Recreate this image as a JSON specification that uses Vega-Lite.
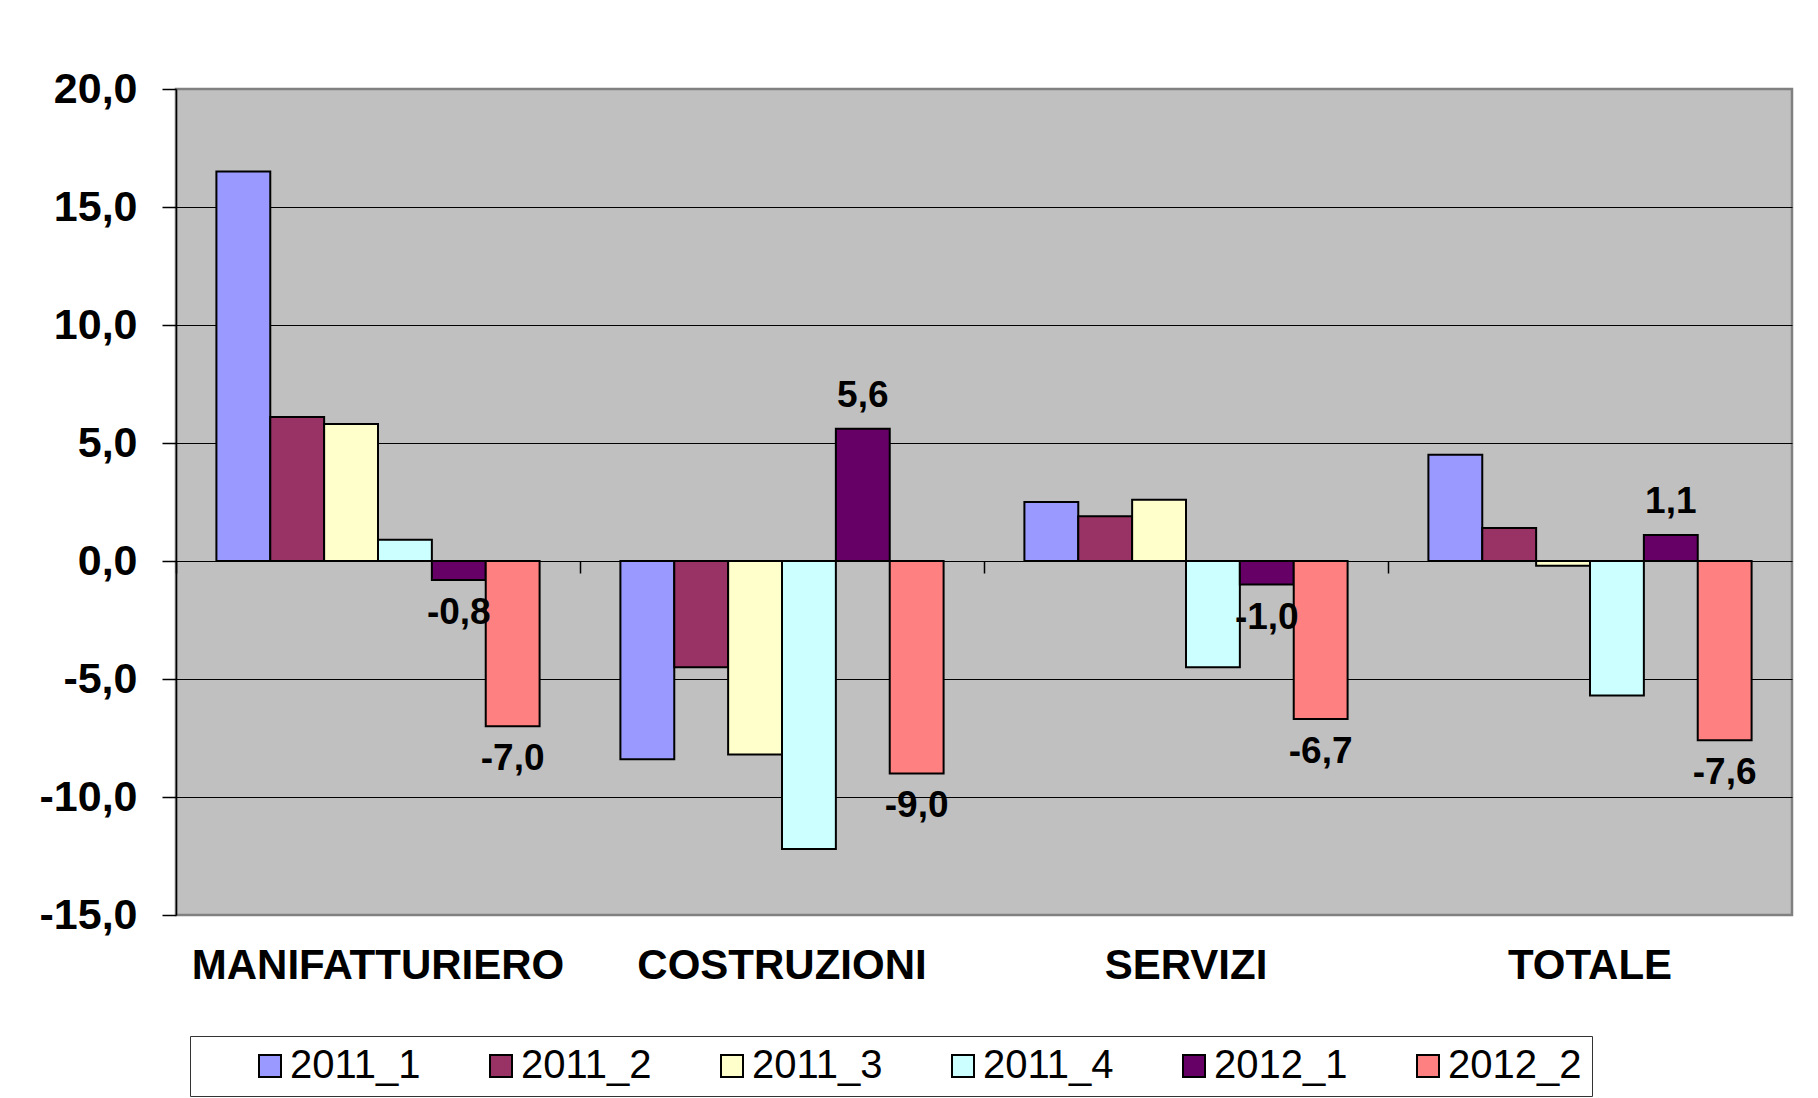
{
  "$schema": "https://vega.github.io/schema/vega-lite/v6.json",
  "width": 1616,
  "height": 826,
  "autosize": {"type": "none"},
  "padding": {"left": 176, "top": 89, "right": 26, "bottom": 183},
  "background": "white",
  "config": {
    "locale": {"number": {"decimal": ",", "thousands": ".", "grouping": [3], "currency": ["", " €"], "minus": "-"}},
    "font": "Liberation Sans",
    "view": {"fill": "#C0C0C0", "stroke": "#808080", "strokeWidth": 2.5}
  },
  "data": {
    "values": [
      {"cat": "MANIFATTURIERO", "series": "2011_1", "value": 16.5},
      {"cat": "MANIFATTURIERO", "series": "2011_2", "value": 6.1},
      {"cat": "MANIFATTURIERO", "series": "2011_3", "value": 5.8},
      {"cat": "MANIFATTURIERO", "series": "2011_4", "value": 0.9},
      {"cat": "MANIFATTURIERO", "series": "2012_1", "value": -0.8},
      {"cat": "MANIFATTURIERO", "series": "2012_2", "value": -7.0},
      {"cat": "COSTRUZIONI", "series": "2011_1", "value": -8.4},
      {"cat": "COSTRUZIONI", "series": "2011_2", "value": -4.5},
      {"cat": "COSTRUZIONI", "series": "2011_3", "value": -8.2},
      {"cat": "COSTRUZIONI", "series": "2011_4", "value": -12.2},
      {"cat": "COSTRUZIONI", "series": "2012_1", "value": 5.6},
      {"cat": "COSTRUZIONI", "series": "2012_2", "value": -9.0},
      {"cat": "SERVIZI", "series": "2011_1", "value": 2.5},
      {"cat": "SERVIZI", "series": "2011_2", "value": 1.9},
      {"cat": "SERVIZI", "series": "2011_3", "value": 2.6},
      {"cat": "SERVIZI", "series": "2011_4", "value": -4.5},
      {"cat": "SERVIZI", "series": "2012_1", "value": -1.0},
      {"cat": "SERVIZI", "series": "2012_2", "value": -6.7},
      {"cat": "TOTALE", "series": "2011_1", "value": 4.5},
      {"cat": "TOTALE", "series": "2011_2", "value": 1.4},
      {"cat": "TOTALE", "series": "2011_3", "value": -0.2},
      {"cat": "TOTALE", "series": "2011_4", "value": -5.7},
      {"cat": "TOTALE", "series": "2012_1", "value": 1.1},
      {"cat": "TOTALE", "series": "2012_2", "value": -7.6}
    ]
  },
  "encoding": {
    "y": {
      "field": "value",
      "type": "quantitative",
      "scale": {"domain": [-15, 20], "nice": false, "zero": true},
      "axis": {
        "title": null,
        "values": [-15, -10, -5, 0, 5, 10, 15, 20],
        "format": ".1f",
        "labelFontSize": 43,
        "labelFontWeight": "bold",
        "labelColor": "black",
        "labelPadding": 25,
        "tickSize": 14,
        "tickColor": "black",
        "tickWidth": 1.5,
        "domainColor": "black",
        "domainWidth": 1.5,
        "grid": true,
        "gridColor": {"condition": {"test": "datum.value == 20 || datum.value == -15", "value": "#808080"}, "value": "black"},
        "gridWidth": 1.2,
        "gridOpacity": 1
      }
    },
    "xOffset": {"field": "series", "type": "nominal", "scale": {"paddingInner": 0, "paddingOuter": 0}}
  },
  "layer": [
    {
      "mark": {"type": "bar", "stroke": "black", "strokeWidth": 2},
      "encoding": {
        "x": {
          "field": "cat",
          "type": "nominal",
          "sort": ["MANIFATTURIERO", "COSTRUZIONI", "SERVIZI", "TOTALE"],
          "scale": {"paddingInner": 0.2, "paddingOuter": 0.1},
          "axis": {
            "title": null,
            "orient": "bottom",
            "labelAngle": 0,
            "labelFontSize": 42,
            "labelFontWeight": "bold",
            "labelColor": "black",
            "labelPadding": 30,
            "labelLimit": 800,
            "ticks": false,
            "domain": false,
            "grid": false
          }
        },
        "color": {
          "field": "series",
          "type": "nominal",
          "scale": {
            "domain": ["2011_1", "2011_2", "2011_3", "2011_4", "2012_1", "2012_2"],
            "range": ["#9999FF", "#993366", "#FFFFCC", "#CCFFFF", "#660066", "#FF8080"]
          },
          "legend": {
            "orient": "none",
            "legendX": 14,
            "legendY": 947,
            "direction": "horizontal",
            "columns": 6,
            "title": " ",
            "titleOrient": "left",
            "titleFontSize": 12,
            "titlePadding": 50,
            "padding": 10,
            "strokeColor": "#333333",
            "fillColor": "white",
            "symbolType": "square",
            "symbolSize": 484,
            "symbolStrokeColor": "black",
            "symbolStrokeWidth": 2,
            "symbolOpacity": 1,
            "labelFontSize": 40,
            "labelColor": "black",
            "labelOffset": 0,
            "labelLimit": 400,
            "columnPadding": 60
          }
        }
      }
    },
    {
      "transform": [
        {"filter": "datum.series == '2012_1' || datum.series == '2012_2'"},
        {"filter": "datum.value >= 0"}
      ],
      "mark": {"type": "text", "dy": -33, "fontSize": 37, "fontWeight": "bold", "color": "black", "baseline": "middle", "align": "center"},
      "encoding": {
        "x": {
          "field": "cat",
          "type": "nominal",
          "sort": ["MANIFATTURIERO", "COSTRUZIONI", "SERVIZI", "TOTALE"],
          "scale": {"paddingInner": 0.2, "paddingOuter": 0.1},
          "axis": {
            "title": null,
            "orient": "bottom",
            "offset": -354,
            "labels": false,
            "domain": false,
            "grid": false,
            "ticks": true,
            "bandPosition": 0,
            "tickOffset": -40.4,
            "tickSize": 12,
            "tickColor": "black",
            "tickWidth": 1.5
          }
        },
        "text": {"field": "value", "type": "quantitative", "format": ".1f"}
      }
    },
    {
      "transform": [
        {"filter": "datum.series == '2012_1' || datum.series == '2012_2'"},
        {"filter": "datum.value < 0"}
      ],
      "mark": {"type": "text", "dy": 33, "fontSize": 37, "fontWeight": "bold", "color": "black", "baseline": "middle", "align": "center"},
      "encoding": {
        "x": {
          "field": "cat",
          "type": "nominal",
          "sort": ["MANIFATTURIERO", "COSTRUZIONI", "SERVIZI", "TOTALE"],
          "scale": {"paddingInner": 0.2, "paddingOuter": 0.1},
          "axis": null
        },
        "text": {"field": "value", "type": "quantitative", "format": ".1f"}
      }
    }
  ],
  "resolve": {"axis": {"x": "independent"}}
}
